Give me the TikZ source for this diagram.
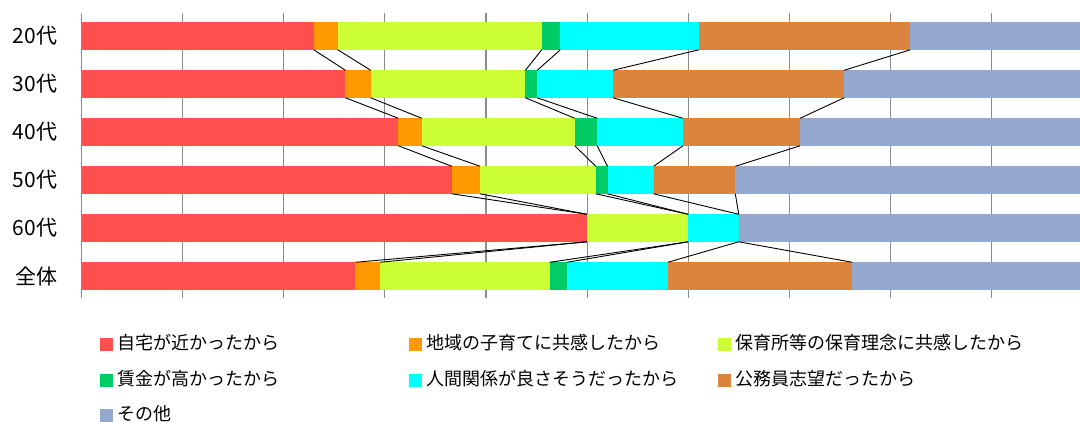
\documentclass[tikz,border=0pt]{standalone}
\usepackage{fontspec}
\setmainfont{Noto Sans CJK JP}
\definecolor{cRed}{HTML}{FF5050}
\definecolor{cOrange}{HTML}{FF9900}
\definecolor{cLime}{HTML}{CCFF33}
\definecolor{cGreen}{HTML}{00CC66}
\definecolor{cCyan}{HTML}{00FFFF}
\definecolor{cBrown}{HTML}{DA843E}
\definecolor{cBlue}{HTML}{95A9CF}
\definecolor{cGrid}{HTML}{8C8C8C}
\tikzset{
  gridline/.style={draw=cGrid, line width=1.1pt},
  seriesline/.style={draw=black, line width=0.9pt},
  catlabel/.style={anchor=east, inner sep=0pt, font=\fontsize{21}{25}\selectfont},
  legsq/.style={inner sep=0pt, minimum width=13pt, minimum height=12.4pt},
  legtext/.style={anchor=base west, inner sep=0pt, font=\fontsize{18}{22}\selectfont}
}
\begin{document}
\begin{tikzpicture}[x=1pt,y=-1pt]
\useasboundingbox (0,0) rectangle (1080,422);
\clip (0,0) rectangle (1080,422);
% gridlines
\foreach \g in {0,10,...,100}
  \draw[gridline] ({81.6+10.11*\g},13.3) -- ({81.6+10.11*\g},298.5);
% bars
\foreach \lab/\a/\b/\c/\d/\e/\f [count=\i from 0] in {
  20代/22.96/25.34/45.51/47.35/61.05/81.96,
  30代/26.10/28.60/43.90/45.07/52.56/75.42,
  40代/31.34/33.66/48.78/51.00/59.48/71.06,
  50代/36.62/39.42/50.86/52.02/56.58/64.66,
  60代/50.00/50.00/60.00/60.00/65.00/65.00,
  全体/27.08/29.50/46.29/48.00/57.98/76.24} {
  \pgfmathsetmacro\yt{22.3+48*\i}
  \pgfmathsetmacro\yb{\yt+27.5}
  \foreach \p/\q/\col in {0/\a/cRed, \a/\b/cOrange, \b/\c/cLime, \c/\d/cGreen, \d/\e/cCyan, \e/\f/cBrown, \f/100/cBlue}
    \fill[\col] ({81.6+10.11*\p},\yt) rectangle ({81.6+10.11*\q},\yb);
  \foreach \v [count=\k] in {\a,\b,\c,\d,\e,\f} {
    \coordinate (t\i-\k) at ({81.6+10.11*\v},\yt);
    \coordinate (b\i-\k) at ({81.6+10.11*\v},\yb);
  }
  \node[catlabel] (lab\i) at (57.5,{\yt+13.75}) {\lab};
}
% series lines
\foreach \i in {0,...,4} {
  \pgfmathtruncatemacro\j{\i+1}
  \foreach \k in {1,...,6}
    \draw[seriesline] (b\i-\k) -- (t\j-\k);
}
% legend
\foreach \x/\y/\col/\txt [count=\n] in {
  100/344.5/cRed/自宅が近かったから,
  408.3/344.5/cOrange/地域の子育てに共感したから,
  718/344.5/cLime/保育所等の保育理念に共感したから,
  100/380.5/cGreen/賃金が高かったから,
  408.3/380.5/cCyan/人間関係が良さそうだったから,
  718/380.5/cBrown/公務員志望だったから,
  100/415.5/cBlue/その他} {
  \node[legsq, fill=\col, anchor=west] (sq\n) at (\x,\y) {};
  \node[legtext] (lt\n) at ({\x+17.5},{\y+4.8}) {\txt};
}
\end{tikzpicture}
\end{document}
